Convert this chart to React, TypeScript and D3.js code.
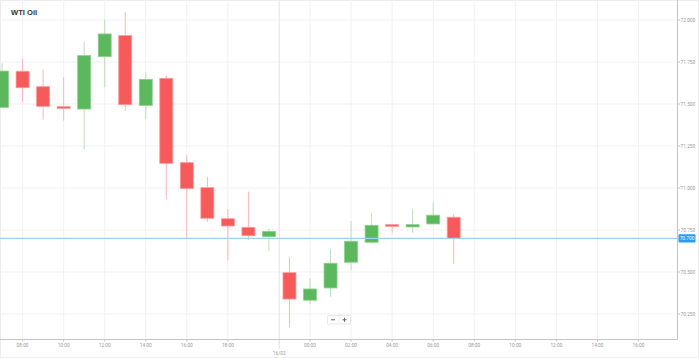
import React from "react";
import * as d3 from "d3";

const W = 699;
const H = 358;

// hourly candles (trading gap 21:00-22:00 removed)
const categories = [
  "15/02 07:00", "15/02 08:00", "15/02 09:00", "15/02 10:00", "15/02 11:00", "15/02 12:00",
  "15/02 13:00", "15/02 14:00", "15/02 15:00", "15/02 16:00", "15/02 17:00", "15/02 18:00",
  "15/02 19:00", "15/02 20:00", "15/02 23:00", "16/02 00:00", "16/02 01:00", "16/02 02:00",
  "16/02 03:00", "16/02 04:00", "16/02 05:00", "16/02 06:00", "16/02 07:00",
];
const futureSlots = [
  "16/02 08:00", "16/02 09:00", "16/02 10:00", "16/02 11:00", "16/02 12:00", "16/02 13:00",
  "16/02 14:00", "16/02 15:00", "16/02 16:00", "16/02 17:00",
];
const openV = [71.48, 71.695, 71.603, 71.484, 71.47, 71.782, 71.907, 71.492, 71.653, 71.151, 71.002, 70.817, 70.766, 70.71, 70.496, 70.332, 70.405, 70.558, 70.677, 70.782, 70.768, 70.786, 70.826];
const highV = [71.742, 71.772, 71.707, 71.659, 71.869, 72.004, 72.049, 71.689, 71.668, 71.196, 71.067, 70.875, 70.978, 70.758, 70.588, 70.462, 70.637, 70.804, 70.851, 70.784, 70.875, 70.913, 70.845];
const lowV = [71.48, 71.51, 71.407, 71.401, 71.23, 71.599, 71.46, 71.409, 70.933, 70.696, 70.799, 70.567, 70.69, 70.623, 70.171, 70.308, 70.353, 70.512, 70.671, 70.734, 70.734, 70.786, 70.548];
const closeV = [71.696, 71.597, 71.486, 71.474, 71.788, 71.917, 71.496, 71.647, 71.147, 70.996, 70.82, 70.774, 70.716, 70.742, 70.339, 70.399, 70.552, 70.683, 70.778, 70.772, 70.782, 70.838, 70.7];

const priceTicks = [70.25, 70.5, 70.75, 71.0, 71.25, 71.5, 71.75, 72.0];
const timeTickLabels = [
  "15/02 08:00", "15/02 10:00", "15/02 12:00", "15/02 14:00", "15/02 16:00", "15/02 18:00",
  "16/02 00:00", "16/02 02:00", "16/02 04:00", "16/02 06:00", "16/02 08:00", "16/02 10:00",
  "16/02 12:00", "16/02 14:00", "16/02 16:00",
];
const currentPrice = 70.7;
const title = "WTI Oil";
const dayLabel = "16/02";

const plotL = 0;
const plotR = 677.5;
const plotT = 0;
const plotB = 339.5;

export default function App() {
  const slots = [...categories, ...futureSlots];
  // index of slot: first candle sits at -1
  const idx = (k: string) => slots.indexOf(k) - 1;
  const x = d3.scaleLinear().domain([-1.1, 31.9]).range([plotL, plotR]);
  const y = d3.scaleLinear().domain([72.0, 70.25]).range([20, 314]);

  const bodyW = 13;
  const dayStart = slots.indexOf("16/02 00:00");
  const dividerX = x(idx(slots[dayStart - 1]) - 0.5);

  return (
    <div style={{ position: "absolute", left: 0, top: 0, width: W, height: H }}>
      <svg width={W} height={H} style={{ display: "block", fontFamily: "Roboto, 'Liberation Sans', sans-serif" }}>
        <rect x={0} y={0} width={W} height={H} fill="#ffffff" />
        <rect x={0.5} y={0.5} width={W - 1} height={H - 1} fill="none" stroke="#ececec" />
        {/* horizontal grid */}
        {priceTicks.map((p) => (
          <line key={"h" + p} x1={plotL} x2={plotR} y1={y(p)} y2={y(p)} stroke="#f1f1f1" />
        ))}
        {/* vertical grid */}
        {timeTickLabels.map((s) => (
          <line key={"v" + s} x1={x(idx(s))} x2={x(idx(s))} y1={plotT} y2={plotB} stroke="#f1f1f1" />
        ))}
        <line x1={dividerX} x2={dividerX} y1={plotT} y2={plotB} stroke="#e2e2e2" />

        {/* candles */}
        {categories.map((c, i) => {
          const cx = x(idx(c));
          const up = closeV[i] >= openV[i];
          const fill = up ? "#5cb85c" : "#f65a5a";
          const edge = up ? "#8fd08f" : "#fa9a9a";
          const wick = up ? "#b9e0b9" : "#fbb6b6";
          const top = y(Math.max(openV[i], closeV[i]));
          const bot = y(Math.min(openV[i], closeV[i]));
          const bh = Math.max(bot - top, 1.5);
          return (
            <g key={c}>
              <line x1={cx} x2={cx} y1={y(highV[i])} y2={y(lowV[i])} stroke={wick} strokeWidth={1} />
              <rect x={cx - bodyW / 2} y={top} width={bodyW} height={bh} fill={fill} stroke={edge} strokeWidth={0.8} />
            </g>
          );
        })}

        {/* current price line */}
        <line x1={plotL} x2={plotR} y1={y(currentPrice)} y2={y(currentPrice)} stroke="#9fd0f3" strokeWidth={1.2} />

        {/* right axis */}
        <line x1={plotR} x2={plotR} y1={0} y2={plotB} stroke="#c4c4c4" />
        {priceTicks.map((p) => (
          <g key={"t" + p}>
            <line x1={plotR} x2={plotR + 2.5} y1={y(p)} y2={y(p)} stroke="#c4c4c4" />
            <text x={plotR + 3} y={y(p) + 1.7} fontSize={4.8} fill="#9a9a9a">
              {d3.format(".3f")(p)}
            </text>
          </g>
        ))}
        <rect x={plotR + 1} y={y(currentPrice) - 4.2} width={17} height={8.4} rx={1} fill="#2a9bf0" />
        <text x={plotR + 9.5} y={y(currentPrice) + 1.7} fontSize={4.8} fill="#ffffff" textAnchor="middle">
          {d3.format(".3f")(currentPrice)}
        </text>

        {/* bottom axis */}
        <line x1={plotL} x2={plotR} y1={plotB} y2={plotB} stroke="#c4c4c4" />
        {timeTickLabels.map((s) => (
          <g key={"b" + s}>
            <line x1={x(idx(s))} x2={x(idx(s))} y1={plotB} y2={plotB + 2} stroke="#c4c4c4" />
            <text x={x(idx(s))} y={plotB + 7.8} fontSize={4.8} fill="#9a9a9a" textAnchor="middle">
              {s.slice(6)}
            </text>
          </g>
        ))}
        <line x1={dividerX} x2={dividerX} y1={plotB} y2={plotB + 9} stroke="#bdbdbd" strokeDasharray="1,1" />
        <text x={dividerX} y={plotB + 15.5} fontSize={4.8} fill="#9a9a9a" textAnchor="middle">
          {dayLabel}
        </text>

        {/* title */}
        <text x={11} y={14.8} fontSize={7.6} fontWeight="bold" fill="#333333" fontFamily="'Liberation Sans', Arial, sans-serif">
          {title}
        </text>

        {/* zoom control */}
        <g>
          <rect x={327.5} y={315.5} width={23} height={8.5} rx={1} fill="#ffffff" stroke="#e8e8e8" />
          <line x1={339} x2={339} y1={316} y2={323.5} stroke="#eeeeee" />
          <line x1={331} x2={335} y1={319.8} y2={319.8} stroke="#666666" strokeWidth={1} />
          <line x1={342.5} x2={346.5} y1={319.8} y2={319.8} stroke="#666666" strokeWidth={1} />
          <line x1={344.5} x2={344.5} y1={317.8} y2={321.8} stroke="#666666" strokeWidth={1} />
        </g>
      </svg>
    </div>
  );
}
